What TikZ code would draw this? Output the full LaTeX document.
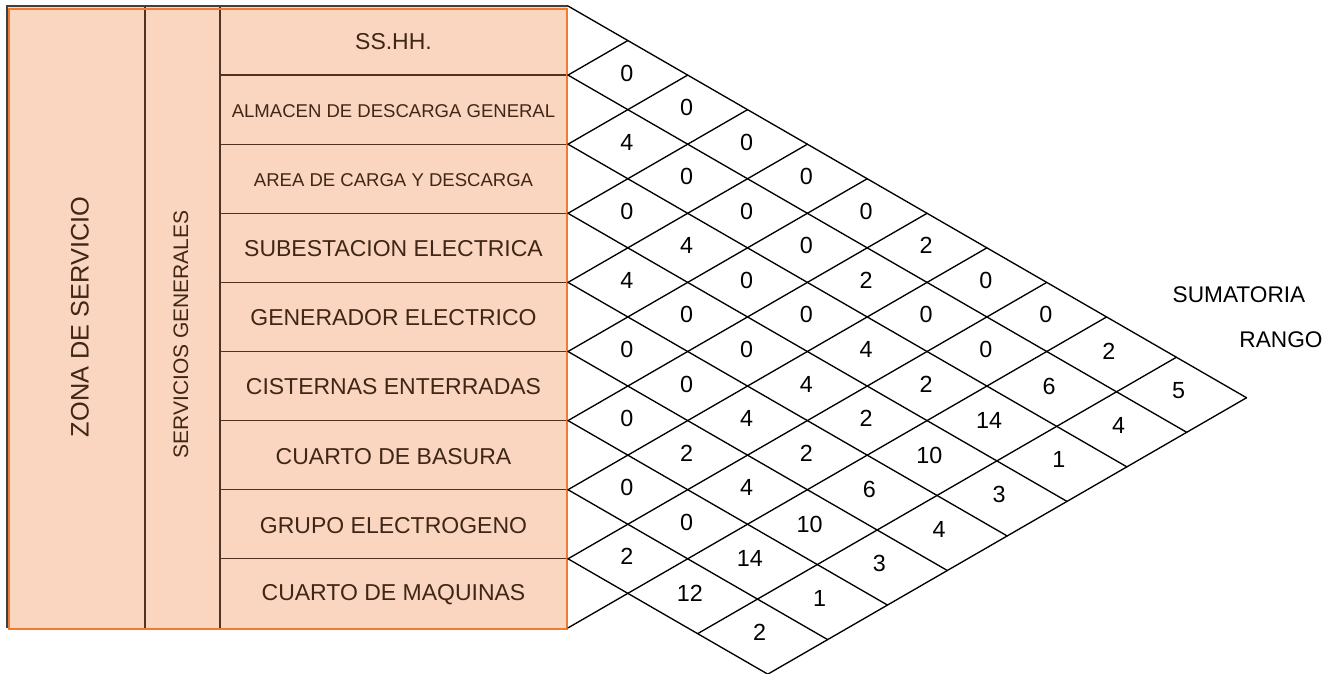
\documentclass[tikz,border=0pt]{standalone}
\usepackage{fontspec}
\setmainfont{Liberation Sans}
\definecolor{tabfill}{RGB}{250,214,192}
\definecolor{taborange}{RGB}{237,125,49}
\definecolor{tabtext}{RGB}{64,38,22}
\definecolor{tabline}{RGB}{80,50,35}
\tikzset{
  rowlab/.style={text=tabtext, font=\fontsize{17.25}{20}\selectfont, inner sep=0pt},
  rowsmall/.style={text=tabtext, font=\fontsize{13.9}{16}\selectfont, inner sep=0pt},
  numlab/.style={font=\fontsize{17.5}{20}\selectfont, inner sep=0pt},
  sidelab/.style={font=\fontsize{17}{20}\selectfont, inner sep=0pt},
  tabrule/.style={draw=tabline, line width=1pt},
  gridline/.style={draw=black, line width=1pt, line cap=round},
}
\begin{document}
\begin{tikzpicture}[x=0.75pt,y=-0.75pt]
\useasboundingbox (0,0) rectangle (1338,674);
% ---- table ----
\fill[tabfill] (7,6) rectangle (567,628);
\foreach \k in {1,...,8} {
  \draw[tabrule] (220,{6+69.1*\k}) -- (567,{6+69.1*\k});
}
\draw[tabrule] (145,6) -- (145,628);
\draw[tabrule] (220,6) -- (220,628);
\draw[black!75, line width=1.1pt] (7,628) -- (7,6) -- (568,6);
\draw[taborange, line width=2pt] (9,9) rectangle (567,629);
% labels
\node[rowlab, rotate=90, font=\fontsize{19}{22}\selectfont] (zona) at (80,317) {ZONA DE SERVICIO};
\node[rowlab, rotate=90, font=\fontsize{15.75}{18}\selectfont] (serv) at (181,334.5) {SERVICIOS GENERALES};
\node[rowlab]   (r1) at (393.5,{6+69.1*0.5+1}) {SS.HH.};
\node[rowsmall] (r2) at (393.5,{6+69.1*1.5+1}) {ALMACEN DE DESCARGA GENERAL};
\node[rowsmall] (r3) at (393.5,{6+69.1*2.5+1}) {AREA DE CARGA Y DESCARGA};
\node[rowlab]   (r4) at (393.5,{6+69.1*3.5+1}) {SUBESTACION ELECTRICA};
\node[rowlab]   (r5) at (393.5,{6+69.1*4.5+1}) {GENERADOR ELECTRICO};
\node[rowlab]   (r6) at (393.5,{6+69.1*5.5+1}) {CISTERNAS ENTERRADAS};
\node[rowlab]   (r7) at (393.5,{6+69.1*6.5+1}) {CUARTO DE BASURA};
\node[rowlab]   (r8) at (393.5,{6+69.1*7.5+1}) {GRUPO ELECTROGENO};
\node[rowlab]   (r9) at (393.5,{6+69.1*8.5+1}) {CUARTO DE MAQUINAS};
% ---- diamond grid ----
% down-right lines from row boundaries to the outer RANGO edge
\foreach \k in {0,...,8} {
  \pgfmathsetmacro\yk{6+69.1*\k}
  \pgfmathsetmacro\dx{(789.5-\yk)/1.1547}
  \coordinate (d\k) at (568,\yk);
  \draw[gridline] (d\k) -- ++(\dx,{\dx*0.57735});
}
% up-right lines from row boundaries to the top line
\foreach \k in {1,...,9} {
  \pgfmathsetmacro\yk{6+69.1*\k}
  \pgfmathsetmacro\dx{69.1*\k/1.1547}
  \coordinate (u\k) at (568,\yk);
  \draw[gridline] (u\k) -- ++(\dx,{-\dx*0.57735});
}
% SUMATORIA and RANGO band edges
\foreach \b/\nm in {708.5/sedge,789.5/redge} {
  \pgfmathsetmacro\dt{(\b-6)/1.1547}
  \pgfmathsetmacro\db{(\b-558.8)/1.1547}
  \coordinate (\nm t) at ({568+\dt},{6+0.57735*\dt});
  \coordinate (\nm b) at ({568+\db},{558.8+0.57735*\db});
  \draw[gridline] (\nm t) -- (\nm b);
}
% pair values
\foreach \i/\j/\v in {
  1/2/0,2/3/4,3/4/0,4/5/4,5/6/0,6/7/0,7/8/0,8/9/2,
  1/3/0,2/4/0,3/5/4,4/6/0,5/7/0,6/8/2,7/9/0,
  1/4/0,2/5/0,3/6/0,4/7/0,5/8/4,6/9/4,
  1/5/0,2/6/0,3/7/0,4/8/4,5/9/2,
  1/6/0,2/7/2,3/8/4,4/9/2,
  1/7/2,2/8/0,3/9/2,
  1/8/0,2/9/0,
  1/9/0} {
  \pgfmathsetmacro\dx{69.1*(\j-\i)/1.1547}
  \pgfmathsetmacro\yy{6+69.1*((\i+\j)/2-0.5)}
  \node[numlab] (p\i-\j) at ({568+\dx-1},{\yy-2}) {\v};
}
% sums
\foreach \k/\v in {1/2,2/6,3/14,4/10,5/6,6/10,7/14,8/12} {
  \pgfmathsetmacro\ck{6+69.1*(\k-0.5)}
  \pgfmathsetmacro\dx{(668.5-\ck)/1.1547}
  \node[numlab] (s\k) at ({568+\dx-3},{(668.5+\ck)/2-3}) {\v};
}
% ranks
\foreach \k/\v in {1/5,2/4,3/1,4/3,5/4,6/3,7/1,8/2} {
  \pgfmathsetmacro\ck{6+69.1*(\k-0.5)}
  \pgfmathsetmacro\dx{(749-\ck)/1.1547}
  \node[numlab] (g\k) at ({568+\dx-3},{(749+\ck)/2-4}) {\v};
}
\node[sidelab] (sumatoria) at (1239,295) {SUMATORIA};
\node[sidelab] (rango) at (1281,340) {RANGO};
\end{tikzpicture}
\end{document}
